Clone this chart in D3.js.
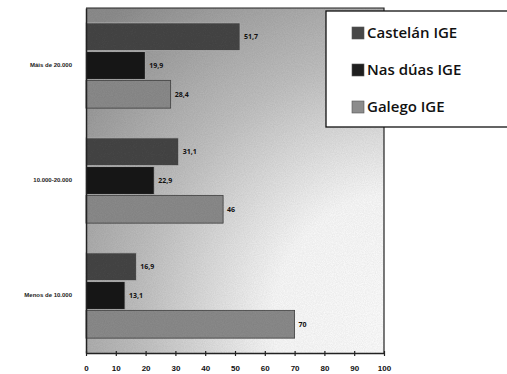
<!DOCTYPE html>
<html>
<head>
<meta charset="utf-8">
<script src="https://cdn.jsdelivr.net/npm/d3@7"></script>
<style>
    body { margin: 0; background: #fff; }
    svg { display: block; }
</style>
</head>
<body>
<div id="chart"></div>
<script>
const categories = ['Máis de 20.000', '10.000-20.000', 'Menos de 10.000'];
const series = ['Castelán IGE', 'Nas dúas IGE', 'Galego IGE'];
const castelan = [51.7, 31.1, 16.9];
const nas_duas = [19.9, 22.9, 13.1];
const galego = [28.4, 46, 70];
const x_ticks = [0, 10, 20, 30, 40, 50, 60, 70, 80, 90, 100];

(function() {
    const width = 507, height = 374;
    const plot = {left: 86, right: 384, top: 8, bottom: 353};
    const fills = ['#474747', '#1f1f1f', '#8c8c8c'];
    const values = [castelan, nas_duas, galego];

    const fmt = (v) => String(v).replace('.', ',');

    let svg = d3.select('#chart').append('svg')
        .attr('width', width)
        .attr('height', height)
        .attr('font-family', '"Open Sans", sans-serif');

    let defs = svg.append('defs');
    let grad = defs.append('radialGradient')
        .attr('id', 'bg')
        .attr('gradientUnits', 'userSpaceOnUse')
        .attr('cx', 400).attr('cy', 320).attr('r', 420);
    grad.append('stop').attr('offset', '0%').attr('stop-color', '#ffffff');
    grad.append('stop').attr('offset', '30%').attr('stop-color', '#fbfbfb');
    grad.append('stop').attr('offset', '62%').attr('stop-color', '#c2c2c2');
    grad.append('stop').attr('offset', '100%').attr('stop-color', '#8e8e8e');

    let filter = defs.append('filter').attr('id', 'grain');
    filter.append('feTurbulence')
        .attr('type', 'fractalNoise').attr('baseFrequency', 0.9)
        .attr('numOctaves', 2).attr('seed', 3).attr('result', 'noise');
    filter.append('feColorMatrix')
        .attr('in', 'noise').attr('type', 'matrix')
        .attr('values', '0 0 0 0 0  0 0 0 0 0  0 0 0 0 0  0 0 0 0.18 0')
        .attr('result', 'dots');
    filter.append('feComposite')
        .attr('in', 'dots').attr('in2', 'SourceGraphic').attr('operator', 'in')
        .attr('result', 'clipped');
    filter.append('feMerge').call(function(m) {
        m.append('feMergeNode').attr('in', 'SourceGraphic');
        m.append('feMergeNode').attr('in', 'clipped');
    });

    let x = d3.scaleLinear().domain([0, 100]).range([plot.left, plot.right]);
    let y0 = d3.scaleBand().domain(categories)
        .range([plot.top, plot.bottom])
        .paddingInner(0.25).paddingOuter(0.125);
    let y1 = d3.scaleBand().domain(series).range([0, y0.bandwidth()]);

    svg.append('rect')
        .attr('x', plot.left).attr('y', plot.top)
        .attr('width', plot.right - plot.left)
        .attr('height', plot.bottom - plot.top)
        .attr('fill', 'url(#bg)')
        .attr('filter', 'url(#grain)');

    let rows = [];
    categories.forEach(function(c, i) {
        series.forEach(function(s, j) {
            rows.push({category: c, series: s, index: j, value: values[j][i]});
        });
    });

    let bars = svg.append('g');
    bars.selectAll('rect')
        .data(rows)
        .enter().append('rect')
        .attr('x', x(0))
        .attr('y', (d) => y0(d.category) + y1(d.series) + 0.5)
        .attr('width', (d) => x(d.value) - x(0))
        .attr('height', y1.bandwidth() - 1)
        .attr('fill', (d) => fills[d.index])
        .attr('stroke', (d) => d.index === 2 ? '#444' : '#bbb')
        .attr('stroke-width', 0.8)
        .attr('filter', 'url(#grain)');

    bars.selectAll('text')
        .data(rows)
        .enter().append('text')
        .attr('x', (d) => x(d.value) + 4)
        .attr('y', (d) => y0(d.category) + y1(d.series) + y1.bandwidth() / 2)
        .attr('dy', '0.35em')
        .attr('font-size', 7)
        .attr('font-weight', 'bold')
        .attr('fill', '#111')
        .text((d) => fmt(d.value));

    // frame: top and right
    svg.append('path')
        .attr('d', 'M' + plot.left + ',' + plot.top + 'H' + plot.right + 'V' + plot.bottom)
        .attr('fill', 'none')
        .attr('stroke', '#222')
        .attr('stroke-width', 1.2);

    let xaxis = svg.append('g')
        .attr('transform', 'translate(0,' + plot.bottom + ')')
        .call(d3.axisBottom(x).tickValues(x_ticks).tickSize(4).tickSizeOuter(0));
    xaxis.select('.domain').attr('stroke', '#222').attr('stroke-width', 1.5);
    xaxis.selectAll('.tick line').attr('stroke', '#222').attr('stroke-width', 1.2)
        .attr('y1', -2).attr('y2', 3);
    xaxis.selectAll('.tick text')
        .attr('y', 12)
        .attr('font-size', 8)
        .attr('font-weight', 'bold')
        .attr('fill', '#111');

    let yaxis = svg.append('g')
        .attr('transform', 'translate(' + plot.left + ',0)')
        .call(d3.axisLeft(y0).tickSize(0).tickPadding(14));
    yaxis.select('.domain').attr('stroke', '#222').attr('stroke-width', 1.5);
    yaxis.selectAll('.tick text')
        .attr('font-size', 6)
        .attr('font-weight', 'bold')
        .attr('fill', '#222');

    // legend
    let legend = svg.append('g');
    legend.append('rect')
        .attr('x', 326).attr('y', 11)
        .attr('width', 190).attr('height', 116)
        .attr('fill', '#fff')
        .attr('stroke', '#111')
        .attr('stroke-width', 1.3);

    let items = legend.selectAll('g.item')
        .data(series)
        .enter().append('g')
        .attr('class', 'item')
        .attr('transform', (d, i) => 'translate(352,' + (33 + i * 37) + ')');
    items.append('rect')
        .attr('x', 0).attr('y', -6)
        .attr('width', 12).attr('height', 12)
        .attr('fill', (d, i) => fills[i])
        .attr('stroke', '#555')
        .attr('stroke-width', 0.6);
    items.append('text')
        .attr('x', 15)
        .attr('dy', '0.36em')
        .attr('font-size', 15)
        .attr('font-weight', 600)
        .attr('fill', '#111')
        .text((d) => d);
}());
</script>
</body>
</html>
